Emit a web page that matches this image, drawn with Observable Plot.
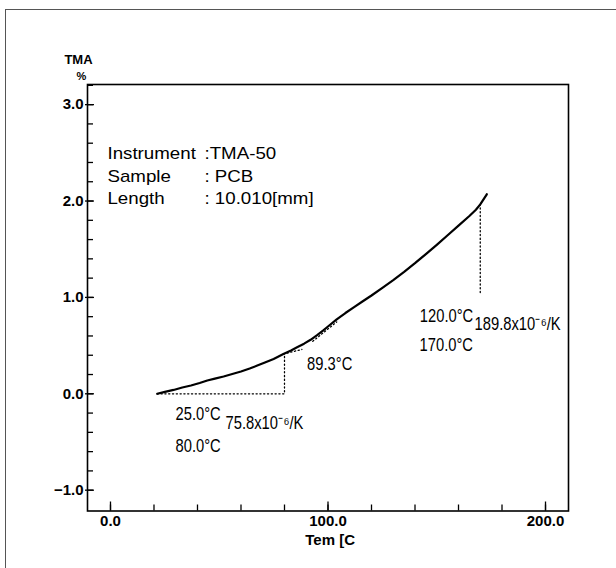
<!DOCTYPE html>
<html><head><meta charset="utf-8">
<script src="https://cdn.jsdelivr.net/npm/d3@7"></script>
<script src="https://cdn.jsdelivr.net/npm/@observablehq/plot@0.6"></script>
<style>
body{margin:0;background:#fff;}
#wrap{position:relative;width:616px;height:568px;overflow:hidden;}
#border{position:absolute;left:5px;top:9px;right:-10px;bottom:-10px;border-top:1.5px solid #555;border-left:1.5px solid #555;}
#chart{position:absolute;left:0;top:0;}
</style></head><body>
<div id="wrap"><div id="chart"></div><div id="border"></div></div>
<script>
// TMA curve (temperature °C, expansion %)
const temperature = [21.5, 25, 29, 33, 37, 41, 44.5, 48, 52, 56, 60, 64, 67.5, 71, 75, 79.5, 83, 86, 89, 92, 95, 98, 100, 104, 108, 112, 116, 120, 125, 130, 135, 140, 145, 150, 155, 160, 165, 168, 170, 173];
const tma = [0.0, 0.02, 0.04, 0.065, 0.086, 0.112, 0.138, 0.158, 0.18, 0.205, 0.231, 0.262, 0.293, 0.325, 0.362, 0.413, 0.45, 0.485, 0.52, 0.56, 0.608, 0.66, 0.698, 0.772, 0.838, 0.9, 0.96, 1.02, 1.1, 1.18, 1.265, 1.355, 1.45, 1.545, 1.645, 1.745, 1.845, 1.91, 1.965, 2.07];

// axis ticks and labels
const xMajorTicks = [0, 100, 200];
const xTickLabels = ["0.0", "100.0", "200.0"];
const xMinorTicks = [0, 20, 40, 60, 80, 100, 120, 140, 160, 180, 200];
const yMajorTicks = [-1, 0, 1, 2, 3];
const yTickLabels = ["−1.0", "0.0", "1.0", "2.0", "3.0"];
const yMinorTicks = [-1.0, -0.8, -0.6, -0.4, -0.2, 0, 0.2, 0.4, 0.6, 0.8, 1.0, 1.2, 1.4, 1.6, 1.8, 2.0, 2.2, 2.4, 2.6, 2.8, 3.0, 3.2];
const yTitle = ["TMA", "%"];
const xTitle = "Tem [C";

// measurement info
const infoLabels = ["Instrument", "Sample", "Length"];
const infoValues = [":TMA-50", ": PCB", ": 10.010[mm]"];
const infoT = [-1.4, 43.2];
const infoV = [2.436, 2.202, 1.969];

// analysis annotations
const annotationText = ["25.0°C", "75.8x10⁻⁶/K", "80.0°C", "89.3°C", "120.0°C", "189.8x10⁻⁶/K", "170.0°C"];
const annotationT = [29.9, 52.9, 29.9, 90.4, 142.2, 167.4, 142.1];
const annotationV = [-0.27, -0.363, -0.606, 0.242, 0.75, 0.662, 0.439];

// dotted analysis guides
const lowGuideT = [21.5, 80, 80];
const lowGuideV = [0, 0, 0.415];
const highGuideT = [170, 170];
const highGuideV = [1.05, 1.965];
const lowTangentT = [79.5, 88];
const lowTangentV = [0.413, 0.46];
const highTangentT = [93, 104];
const highTangentV = [0.545, 0.745];

const pts = (T, V) => T.map((t, i) => ({t, v: V[i]}));
const curve = pts(temperature, tma);
const info = [];
infoLabels.forEach((s, i) => { info.push({t: infoT[0], v: infoV[i], s}); info.push({t: infoT[1], v: infoV[i], s: infoValues[i]}); });
const annotations = annotationText.map((s, i) => ({s, t: annotationT[i], v: annotationV[i]}));

const dotted = {stroke: "black", strokeWidth: 1.3, strokeDasharray: "1.2,2.6"};
const tickFont = {fontSize: 15, fontWeight: "bold", fill: "black"};

const plot = Plot.plot({
  width: 616, height: 568,
  marginLeft: 87, marginRight: 48, marginTop: 84, marginBottom: 57.5,
  x: {domain: [-10.57, 210.57]},
  y: {domain: [-1.216, 3.209]},
  style: {background: "transparent", fontFamily: "'Liberation Sans', Arial, sans-serif", color: "black"},
  marks: [
    Plot.frame({stroke: "black", strokeWidth: 1.6}),
    Plot.axisY(yMinorTicks, {tickSize: 6, dx: 6, tickFormat: () => "", label: null, strokeWidth: 1.3}),
    Plot.axisY(yMajorTicks, {tickSize: 9, dx: 7, tickPadding: 2, tickFormat: d => yTickLabels[yMajorTicks.indexOf(d)], label: null, strokeWidth: 1.3, ...tickFont}),
    Plot.axisX(xMinorTicks, {tickSize: 6, dy: -6, tickFormat: () => "", label: null, strokeWidth: 1.3}),
    Plot.axisX(xMajorTicks, {tickSize: 9, dy: -9, tickPadding: 4, tickFormat: d => xTickLabels[xMajorTicks.indexOf(d)], label: null, strokeWidth: 1.3, ...tickFont}),
    Plot.text([yTitle[0]], {frameAnchor: "top-left", text: d => d, dx: -9, dy: -21, lineAnchor: "bottom", textAnchor: "middle", fontSize: 13, fontWeight: "bold"}),
    Plot.text([yTitle[1]], {frameAnchor: "top-left", text: d => d, dx: -6, dy: -5, lineAnchor: "bottom", textAnchor: "middle", fontSize: 11, fontWeight: "bold"}),
    Plot.text([xTitle], {x: 101, frameAnchor: "bottom", text: d => d, dy: 33.5, lineAnchor: "bottom", textAnchor: "middle", fontSize: 15, fontWeight: "bold"}),
    Plot.line(pts(lowGuideT, lowGuideV), {x: "t", y: "v", ...dotted}),
    Plot.line(pts(highGuideT, highGuideV), {x: "t", y: "v", ...dotted}),
    Plot.line(pts(lowTangentT, lowTangentV), {x: "t", y: "v", ...dotted}),
    Plot.line(pts(highTangentT, highTangentV), {x: "t", y: "v", ...dotted}),
    Plot.line(curve, {x: "t", y: "v", stroke: "black", strokeWidth: 2.2, strokeLinejoin: "round"}),
    Plot.text(info, {x: "t", y: "v", text: "s", textAnchor: "start", lineAnchor: "bottom", fontSize: 16}),
    Plot.text(annotations, {x: "t", y: "v", text: "s", textAnchor: "start", lineAnchor: "bottom", fontSize: 18})
  ]
});
document.getElementById("chart").appendChild(plot);
function stretch(strings, sx) {
  const set = new Set(strings);
  plot.querySelectorAll("text").forEach(t => {
    if (!set.has(t.textContent)) return;
    const tr = t.getAttribute("transform") || "";
    const x = t.getAttribute("x"), y = t.getAttribute("y");
    if (x !== null || y !== null) {
      t.setAttribute("transform", `${tr} translate(${x || 0},${y || 0}) scale(${sx},1)`);
      t.removeAttribute("x"); t.removeAttribute("y");
    } else {
      t.setAttribute("transform", `${tr} scale(${sx},1)`);
    }
  });
}
stretch([...infoLabels, ...infoValues], 1.17);
stretch(annotationText, 0.82);
</script>
</body></html>
